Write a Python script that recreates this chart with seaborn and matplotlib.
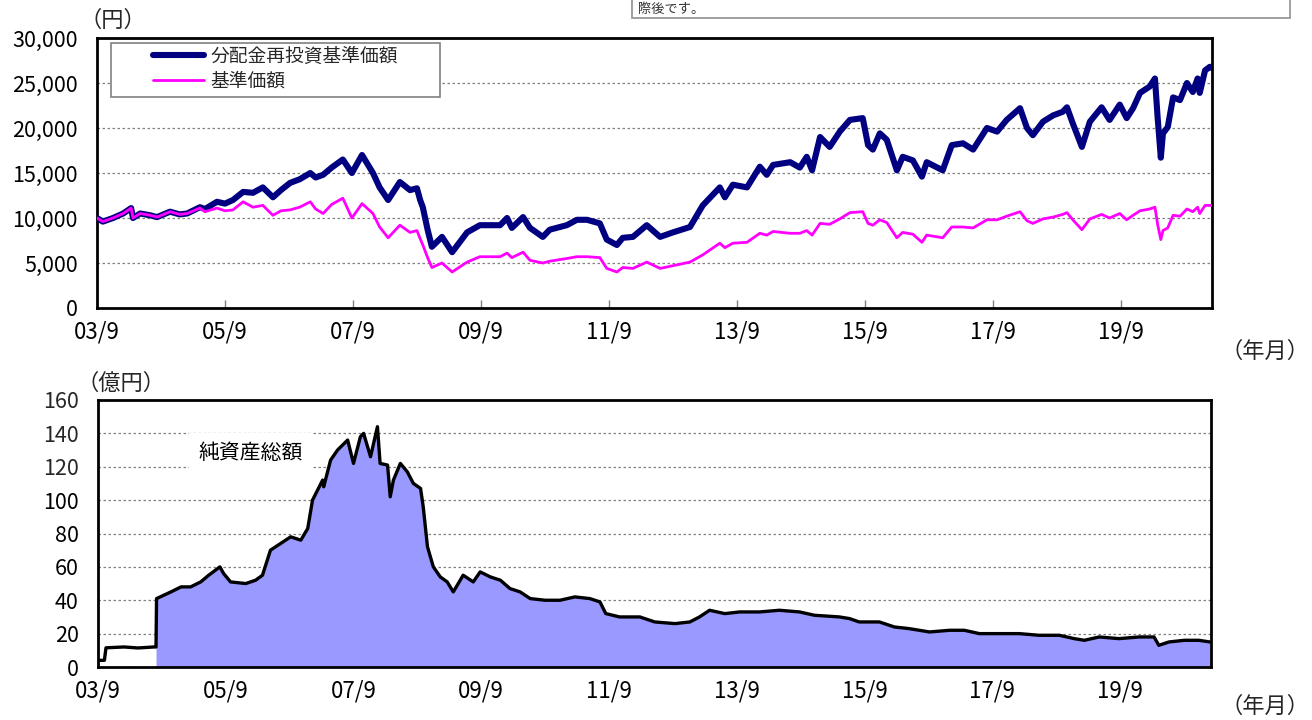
import matplotlib
matplotlib.use("Agg")
import matplotlib.pyplot as plt
import seaborn as sns
import pandas as pd
from matplotlib.patches import Rectangle
from matplotlib.lines import Line2D

# ---------------- data ----------------
# time axis: months elapsed since 2003/9
months_top = [0, 1.1, 3, 4.9, 6.4, 6.75, 8.1, 10, 11.25, 13.7, 15.5, 16.9, 19.3, 20.25, 22.5, 24,
              25.5, 27.4, 29.25, 31.1, 33, 34.5, 36.2, 38, 40, 41, 42.4, 44, 46.1, 47.8, 49.7,
              51.75, 53, 54.6, 56.8, 58.7, 60, 60.6, 61.1, 62, 62.8, 64.7, 66.6, 69.4, 71.8,
              75.6, 76.9, 77.8, 79.9, 81.2, 83.6, 84.9, 88.1, 90, 91.9, 94.3, 95.6, 97.5, 98.6,
              100.5, 103.1, 105.6, 108, 111.2, 113.6, 116.8, 117.75, 119.25, 121.9, 124.3,
              125.6, 126.8, 130, 131.8, 133.1, 134.1, 135.6, 137.4, 139.3, 141.2, 143.6, 144.6,
              145.5, 146.8, 148.1, 150, 151.1, 153, 154.7, 155.6, 158.6, 160.3, 162.4, 164.3,
              166.9, 168.8, 170.6, 173.1, 174.4, 175.5, 177.4, 179.3, 181.1, 181.9, 183.0,
              184.7, 186.2, 188.4, 189.9, 191.8, 193.1, 194.3, 195.6, 197.4, 198.4, 198.9,
              199.5, 199.9, 200.8, 201.8, 203.1, 204.4, 205.5, 206.4, 206.8, 207.8, 208.7, 209]
reinvest_nav = [10000, 9600, 10000, 10500, 11100, 10000, 10500, 10300, 10100, 10700, 10400, 10500,
                11200, 11000, 11800, 11600, 12000, 12900, 12800, 13400, 12300, 13100, 13900, 14300,
                15000, 14500, 14800, 15600, 16500, 15000, 17000, 15000, 13400, 12000, 14000, 13100,
                13300, 12000, 11200, 8700, 6800, 7900, 6200, 8400, 9200, 9200, 10000, 8900, 10100,
                8900, 7900, 8700, 9200, 9800, 9800, 9400, 7600, 7000, 7800, 7900, 9200, 7900, 8400,
                9000, 11400, 13400, 12300, 13700, 13400, 15700, 14800, 15900, 16200, 15600, 16800,
                15300, 19000, 17900, 19600, 20900, 21100, 18100, 17600, 19400, 18700, 15300, 16800,
                16400, 14600, 16200, 15300, 18100, 18300, 17600, 20000, 19600, 20900, 22200, 20000,
                19200, 20700, 21400, 21800, 22300, 20500, 17900, 20700, 22300, 20900, 22600, 21100,
                22200, 23900, 24600, 25500, 21200, 16700, 19400, 20100, 23400, 23100, 25000, 24000,
                25500, 23900, 26400, 26800, 26700]
nav = [10000, 9600, 10000, 10500, 11100, 10000, 10500, 10300, 10100, 10700, 10400, 10500,
       11100, 10700, 11100, 10800, 10900, 11800, 11200, 11400, 10300, 10800, 10900, 11200,
       11800, 11000, 10500, 11500, 12200, 10000, 11600, 10500, 9000, 7800, 9200, 8400,
       8600, 7700, 7000, 5600, 4500, 5000, 4000, 5100, 5700, 5700, 6100, 5600, 6200,
       5300, 5000, 5200, 5500, 5700, 5700, 5600, 4400, 4000, 4500, 4400, 5100, 4400, 4700,
       5100, 5900, 7200, 6700, 7200, 7300, 8300, 8100, 8500, 8300, 8300, 8600,
       8100, 9400, 9300, 9900, 10600, 10700, 9400, 9200, 9800, 9500, 7800, 8400,
       8200, 7300, 8100, 7800, 9000, 9000, 8900, 9800, 9800, 10200, 10700, 9700,
       9400, 9900, 10100, 10400, 10600, 9800, 8700, 9900, 10400, 10000, 10500, 9800,
       10300, 10800, 11000, 11200, 9300, 7600, 8600, 8900, 10300, 10200, 11000, 10700,
       11200, 10500, 11400, 11400, 11400]

months_assets = [0, 0.5, 1.2, 1.5, 4.9, 7.5, 10.5, 10.9, 11.0, 13.7, 15.6, 17.4, 19.3, 20.8, 22.9,
                 23.6, 24.9, 27.75, 29.6, 30.9, 32.4, 34.3, 36.2, 38.1, 39.4, 40.3, 41.25, 42.2,
                 42.4, 43.7, 45, 46.9, 48, 49.3, 49.9, 51.2, 52.5, 53, 54.4, 54.9, 55.5, 56.8,
                 58.1, 59.25, 60.6, 61.1, 61.9, 63, 64.3, 65.6, 66.75, 68.6, 70.5, 71.8, 73.7,
                 75.6, 77.4, 79.3, 81.2, 84, 86.8, 89.6, 92.4, 94.3, 95.4, 98, 101.8, 104.6,
                 108.4, 111.2, 113, 114.9, 117.75, 120.6, 124.3, 128, 131.8, 134.6, 139.3, 141.2,
                 143, 146.8, 149.6, 152.4, 156.2, 160, 162.75, 165.6, 169.3, 173.1, 176.8, 180.6,
                 183.4, 185.3, 188.1, 191.8, 195.6, 198.4, 199.3, 201.2, 204.1, 206.8, 208.9]
net_assets = [4, 4, 4, 11.5, 12, 11.4, 12, 12, 41, 45, 48, 48, 51, 55, 60,
              56, 51, 50, 52, 55, 70, 74, 78, 76, 83, 100, 106, 112,
              108, 124, 130, 136, 122, 138, 140, 126, 144, 122, 121, 102, 112, 122,
              117, 110, 107, 96, 72, 60, 54, 51, 45, 55, 51, 57, 54,
              52, 47, 45, 41, 40, 40, 42, 41, 39, 32, 30, 30, 27,
              26, 27, 30, 34, 32, 33, 33, 34, 33, 31, 30, 29,
              27, 27, 24, 23, 21, 22, 22, 20, 20, 20, 19, 19,
              17, 16, 18, 17, 18, 18, 13, 15, 16, 16, 15]

xtick_pos = [0, 24, 48, 72, 96, 120, 144, 168, 192]
xtick_labels = ["03/9", "05/9", "07/9", "09/9", "11/9", "13/9", "15/9", "17/9", "19/9"]
top_yticks = [0, 5000, 10000, 15000, 20000, 25000, 30000]
top_ytick_labels = ["0", "5,000", "10,000", "15,000", "20,000", "25,000", "30,000"]
bottom_yticks = [0, 20, 40, 60, 80, 100, 120, 140, 160]
series_names = ["分配金再投資基準価額", "基準価額"]
assets_name = "純資産総額"

# ---------------- style ----------------
sns.set_theme(style="white")
plt.rcParams["font.family"] = ["Noto Sans CJK JP", "DejaVu Sans"]

W, H = 1312, 720
fig = plt.figure(figsize=(W / 100, H / 100), dpi=100)
fig.patch.set_facecolor("white")

ax1 = fig.add_axes([97 / W, 1 - 308 / H, 1115 / W, 270 / H])
ax2 = fig.add_axes([98 / W, 1 - 667 / H, 1113 / W, 267 / H])

NAVY = "#000080"
MAGENTA = "#FF00FF"
FILL = "#9999FF"

df_top = pd.DataFrame({"month": months_top, series_names[0]: reinvest_nav, series_names[1]: nav})
sns.lineplot(data=df_top, x="month", y=series_names[0], ax=ax1, color=NAVY, linewidth=4.4,
             legend=False, zorder=3)
sns.lineplot(data=df_top, x="month", y=series_names[1], ax=ax1, color=MAGENTA, linewidth=2.0,
             legend=False, zorder=3.5)

df_bot = pd.DataFrame({"month": months_assets, "assets": net_assets})
mask = df_bot["month"] >= 10.9
ax2.fill_between(df_bot["month"][mask], 0, df_bot["assets"][mask], color=FILL, lw=0, zorder=2)
sns.lineplot(data=df_bot, x="month", y="assets", ax=ax2, color="black", linewidth=2.4,
             legend=False, zorder=3)

for ax in (ax1, ax2):
    ax.set_xlim(0, 209.1)
    ax.set_xlabel("")
    ax.set_ylabel("")
    ax.set_xticks(xtick_pos)
    ax.set_xticklabels(xtick_labels)
    ax.tick_params(axis="x", direction="in", length=6, width=1, color="#808080",
                   bottom=True, pad=9, labelsize=16)
    ax.tick_params(axis="y", length=0, pad=14, labelsize=15.5)
    ax.grid(axis="y", color="#808080", linestyle=(0, (2, 2)), linewidth=0.9)
    ax.grid(axis="x", visible=False)
    ax.set_axisbelow(True)
    for sp in ax.spines.values():
        sp.set_color("black")
        sp.set_linewidth(2.0)
        sp.set_visible(True)
    ax.set_facecolor("white")
    for lbl in ax.get_xticklabels() + ax.get_yticklabels():
        lbl.set_color("black")

ax1.set_ylim(0, 30000)
ax1.set_yticks(top_yticks)
ax1.set_yticklabels(top_ytick_labels)
ax2.set_ylim(0, 160)
ax2.set_yticks(bottom_yticks)

# legend with a square grey frame
ax1.add_patch(Rectangle(((111 - 97) / 1115, (308 - 97) / 270), 329 / 1115, 54 / 270,
                        transform=ax1.transAxes, facecolor="white", edgecolor="#808080",
                        linewidth=1.2, zorder=4))
handles = [Line2D([], [], color=NAVY, linewidth=4.4), Line2D([], [], color=MAGENTA, linewidth=2.0)]
leg = ax1.legend(handles, series_names, loc="upper left",
                 bbox_to_anchor=((153 - 97) / 1115, (308 - 46) / 270),
                 frameon=False, fontsize=13.5, handlelength=2.7, handletextpad=0.35,
                 labelspacing=0.2, borderpad=0, borderaxespad=0)
leg.set_zorder(5)

# label inside the lower chart
ax2.text(28.7, 128, assets_name, ha="center", va="center", fontsize=15, color="black",
         zorder=4, bbox=dict(facecolor="white", edgecolor="none", pad=7))

# unit labels
fig.text(113 / W, 1 - 20 / H, "（円）", ha="center", va="center", fontsize=16)
fig.text(121 / W, 1 - 383 / H, "（億円）", ha="center", va="center", fontsize=16)
fig.text(1265 / W, 1 - 351 / H, "（年月）", ha="center", va="center", fontsize=16)
fig.text(1265 / W, 1 - 706 / H, "（年月）", ha="center", va="center", fontsize=16)

# note box at the top right (only its lower part is visible)
fig.patches.append(Rectangle((632 / W, 1 - 18 / H), (1290 - 632) / W, 40 / H,
                             transform=fig.transFigure, facecolor="white",
                             edgecolor="#999999", linewidth=1.3, zorder=1))
fig.text(638 / W, 1 - 9 / H, "際後です。", ha="left", va="center", fontsize=9.5,
         color="#333333", zorder=2)

fig.savefig("out.png", dpi=100, facecolor="white")
